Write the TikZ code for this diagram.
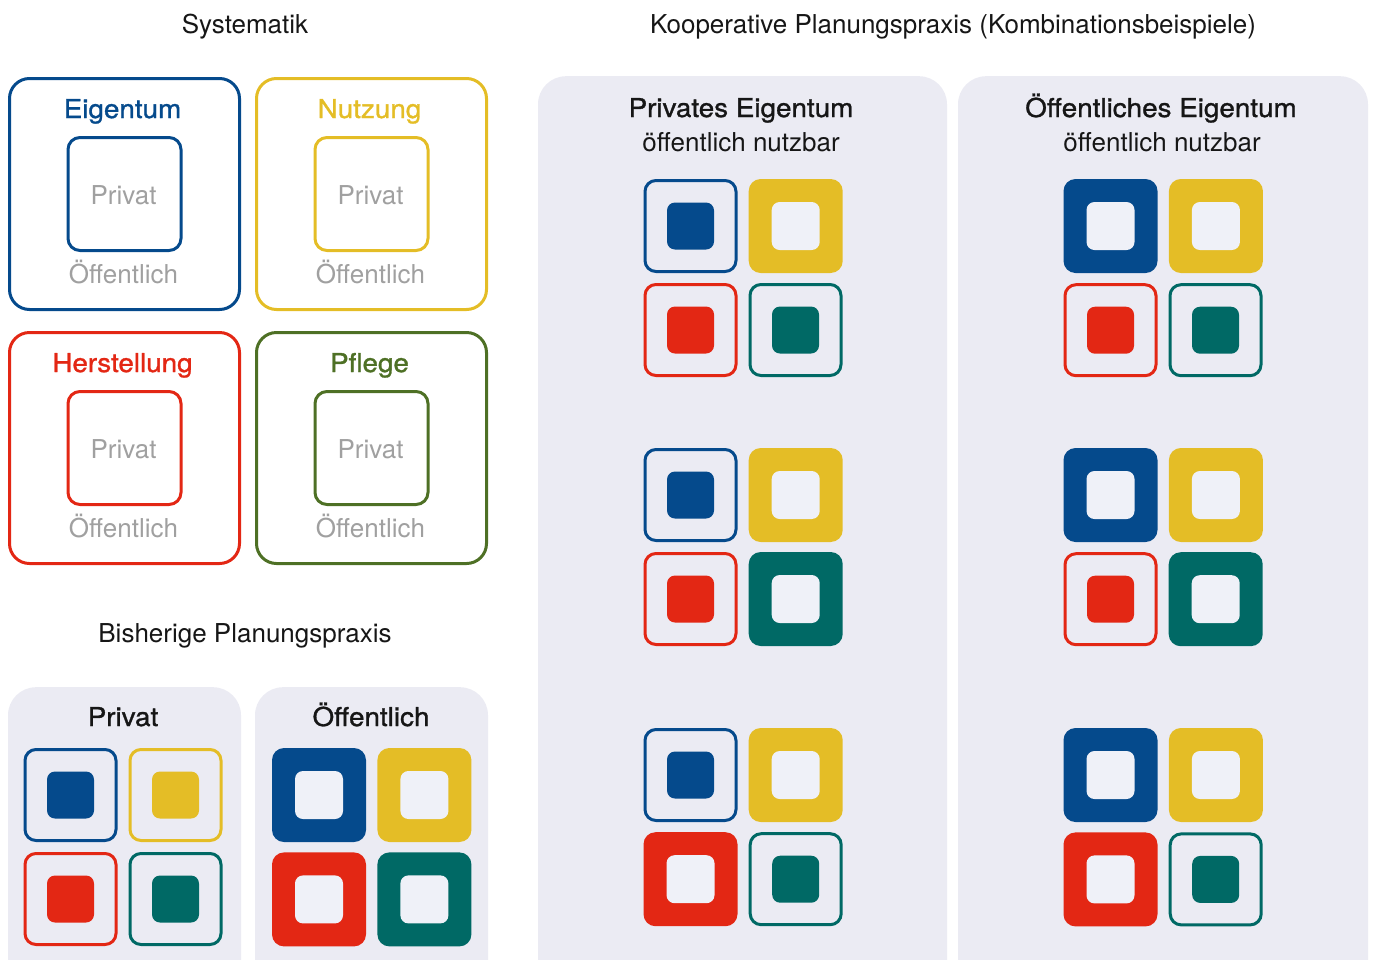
\documentclass[tikz,border=0pt]{standalone}
\usepackage{fontspec}
\setmainfont{TeX Gyre Heros}
\newfontfamily\medfont[FakeBold=1.1,FakeStretch=1.07]{TeX Gyre Heros}
\usetikzlibrary{positioning}

\definecolor{eigblue}{HTML}{054A8C}
\definecolor{nutyellow}{HTML}{E4BD26}
\definecolor{herred}{HTML}{E32714}
\definecolor{pflgreen}{HTML}{4E7025}
\definecolor{tealgreen}{HTML}{006965}
\definecolor{panelgrey}{HTML}{EBEBF3}
\definecolor{holegrey}{HTML}{EFF1F8}
\definecolor{labelgrey}{HTML}{A0A0A0}
\definecolor{textblack}{HTML}{161616}

\tikzset{
  heading/.style   = {text=textblack, font=\fontsize{26}{30}\selectfont},
  systitle/.style  = {font=\medfont\fontsize{26}{30}\selectfont},
  greylabel/.style = {text=labelgrey, font=\fontsize{26}{30}\selectfont},
  paneltitle/.style= {text=textblack, font=\medfont\fontsize{26}{30}\selectfont},
  sysbox/.style    = {draw, line width=3pt, rounded corners=20pt, minimum width=230pt, minimum height=231pt},
  innerbox/.style  = {draw, line width=3pt, rounded corners=12pt, minimum size=113pt},
  panel/.style     = {fill=panelgrey, rounded corners=28pt},
  privtile/.style  = {draw=#1, line width=3pt, rounded corners=11pt, minimum size=91pt},
  pubtile/.style   = {fill=#1, rounded corners=12pt, minimum size=94pt},
  privcore/.style  = {fill=#1, rounded corners=8pt, minimum size=47pt},
  pubcore/.style   = {fill=holegrey, rounded corners=8pt, minimum size=48pt}
}

\begin{document}
\begin{tikzpicture}[x=1pt,y=-1pt,every node/.style={inner sep=0pt}]
\clip (0,0) rectangle (1376,959);
\useasboundingbox (0,0) rectangle (1376,959);

% headings
\node[heading, anchor=base] (systematik) at (245,33) {Systematik};
\node[heading, anchor=base] (kooperativ) at (953,33) {Kooperative Planungspraxis (Kombinationsbeispiele)};
\node[heading, anchor=base] (bisherig) at (245,642) {Bisherige Planungspraxis};

% systematik
\foreach \sname/\sx/\sy/\scol/\stitle in {eig/124.5/194/eigblue/Eigentum, nutz/371.5/194/nutyellow/Nutzung,
    herst/124.5/448/herred/Herstellung, pfl/371.5/448/pflgreen/Pflege}{
  \node[sysbox, draw=\scol] (\sname) at (\sx,\sy) {};
  \node[innerbox, draw=\scol] (\sname-in) at (\sx,\sy) {};
  \node[systitle, text=\scol, anchor=base] (\sname-title) at (\sx-2,\sy-76) {\stitle};
  \node[greylabel, anchor=base] (\sname-priv) at (\sx-1,\sy+10) {Privat};
  \node[greylabel, anchor=base] (\sname-oeff) at (\sx-1,\sy+89) {Öffentlich};
}

% panels
\node[panel, minimum width=233pt, minimum height=320pt, anchor=north] (altpriv) at (124.5,687) {};
\node[panel, minimum width=233pt, minimum height=320pt, anchor=north] (altoeff) at (371.5,687) {};
\node[panel, minimum width=409pt, minimum height=950pt, anchor=north] (koopriv) at (742.5,76) {};
\node[panel, minimum width=410pt, minimum height=950pt, anchor=north] (koooeff) at (1163,76) {};

\node[paneltitle, anchor=base] (altpriv-title) at (123,726) {Privat};
\node[paneltitle, anchor=base] (altoeff-title) at (371,726) {Öffentlich};
\node[paneltitle, anchor=base] (koopriv-title) at (741,117) {Privates Eigentum};
\node[heading, anchor=base] (koopriv-sub) at (741,151) {öffentlich nutzbar};
\node[paneltitle, anchor=base] (koooeff-title) at (1161,117) {Öffentliches Eigentum};
\node[heading, anchor=base] (koooeff-sub) at (1162,151) {öffentlich nutzbar};

% tiles: priv = outline, pub = filled
\foreach \gname/\gx/\gy/\tb/\ty/\tr/\tg in {
    alt/123/847/priv/priv/priv/priv, neu/371.5/847/pub/pub/pub/pub,
    pe1/743/278/priv/pub/priv/priv, pe2/743/547/priv/pub/priv/pub, pe3/743/827/priv/pub/pub/priv,
    oe1/1163/278/pub/pub/priv/priv, oe2/1163/547/pub/pub/priv/pub, oe3/1163/827/pub/pub/pub/priv}{
  \node[\tb tile=eigblue] (\gname-b) at (\gx-52.5,\gy-52) {};
  \node[\ty tile=nutyellow, right=11pt of \gname-b] (\gname-y) {};
  \node[\tr tile=herred, below=10pt of \gname-b] (\gname-r) {};
  \node[\tg tile=tealgreen, right=11pt of \gname-r] (\gname-g) {};
  \node[\tb core=eigblue] (\gname-bc) at (\gname-b) {};
  \node[\ty core=nutyellow] (\gname-yc) at (\gname-y) {};
  \node[\tr core=herred] (\gname-rc) at (\gname-r) {};
  \node[\tg core=tealgreen] (\gname-gc) at (\gname-g) {};
}
\end{tikzpicture}
\end{document}
